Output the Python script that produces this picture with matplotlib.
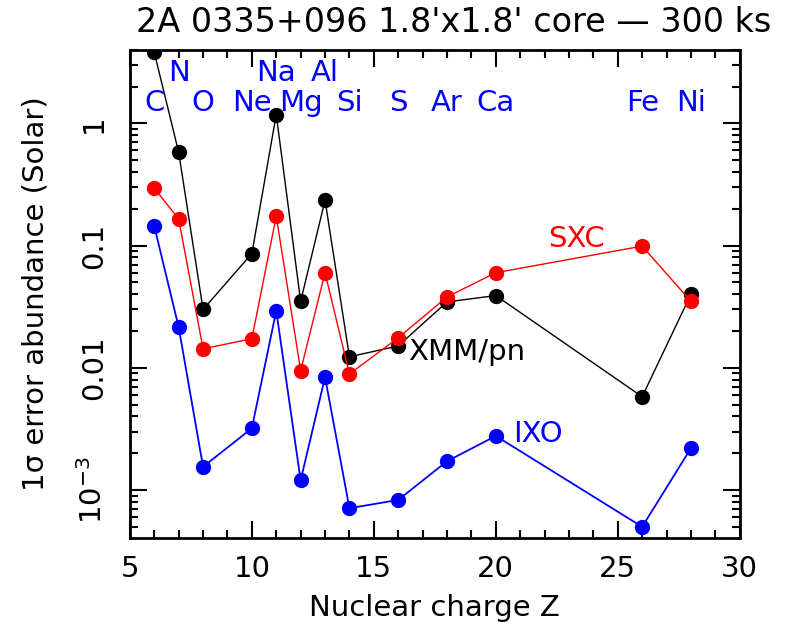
import numpy as np
import matplotlib.pyplot as plt
from matplotlib.ticker import LogLocator, FixedLocator, NullFormatter, MultipleLocator

# Nuclear charge of each element
z = [6, 7, 8, 10, 11, 12, 13, 14, 16, 18, 20, 26, 28]
elements = ['C', 'N', 'O', 'Ne', 'Na', 'Mg', 'Al', 'Si', 'S', 'Ar', 'Ca', 'Fe', 'Ni']
upper_row = ['N', 'Na', 'Al']

# 1 sigma abundance errors
xmm_pn = [3.8, 0.58, 0.030, 0.086, 1.18, 0.035, 0.235, 0.0123, 0.0151, 0.0346, 0.039, 0.0058, 0.040]
sxc = [0.295, 0.165, 0.0143, 0.0173, 0.174, 0.0095, 0.060, 0.0089, 0.0176, 0.038, 0.060, 0.099, 0.035]
ixo = [0.144, 0.0215, 0.00155, 0.0032, 0.0293, 0.0012, 0.0084, 7.1e-4, 8.3e-4, 0.00172, 0.00277, 5.0e-4, 0.0022]

fs = 21

fig = plt.figure(figsize=(7.92, 6.30), dpi=100)
ax = fig.add_axes([0.164, 0.146, 0.770, 0.775])

ax.plot(z, xmm_pn, '-o', color='black', lw=1.0, ms=10)
ax.plot(z, sxc, '-o', color='red', lw=1.0, ms=10)
ax.plot(z, ixo, '-o', color='blue', lw=1.3, ms=10)

ax.set_yscale('log')
ax.set_xlim(5, 30)
ax.set_ylim(4.05e-4, 4.0)

# Element names along the top
trans = ax.get_xaxis_transform()
for zz, el in zip(z, elements):
    yy = 0.953 if el in upper_row else 0.891
    ax.text(zz, yy, el, transform=trans, color='blue', fontsize=fs,
            ha='center', va='center')

# Instrument labels
ax.text(23.3, 0.113, 'SXC', color='red', fontsize=fs, ha='center', va='center')
ax.text(16.4, 0.0135, 'XMM/pn', color='black', fontsize=fs, ha='left', va='center')
ax.text(20.7, 0.0029, 'IXO', color='blue', fontsize=fs, ha='left', va='center')

# Ticks
ax.xaxis.set_major_locator(MultipleLocator(5))
ax.xaxis.set_minor_locator(MultipleLocator(1))
ax.yaxis.set_major_locator(FixedLocator([1e-3, 1e-2, 1e-1, 1]))
ax.yaxis.set_minor_locator(LogLocator(base=10, subs=np.arange(2, 10)))
ax.yaxis.set_minor_formatter(NullFormatter())
ax.set_yticklabels([r'$10^{-3}$', '0.01', '0.1', '1'], rotation=90, va='center')
ax.tick_params(which='both', direction='in', top=True, right=True,
               labelsize=fs, width=1.5)
ax.tick_params(axis='x', pad=12)
ax.tick_params(axis='y', pad=16)
ax.tick_params(which='major', length=12)
ax.tick_params(which='minor', length=6)
for sp in ax.spines.values():
    sp.set_linewidth(2)

ax.set_xlabel('Nuclear charge Z', fontsize=fs, labelpad=8)
ax.set_ylabel('1σ error abundance (Solar)', fontsize=fs, labelpad=20)
fig.text(0.573, 0.965, "2A 0335+096 1.8'x1.8' core \u2014 300 ks", fontsize=24,
         ha='center', va='center')

plt.savefig('out.png', dpi=100)
